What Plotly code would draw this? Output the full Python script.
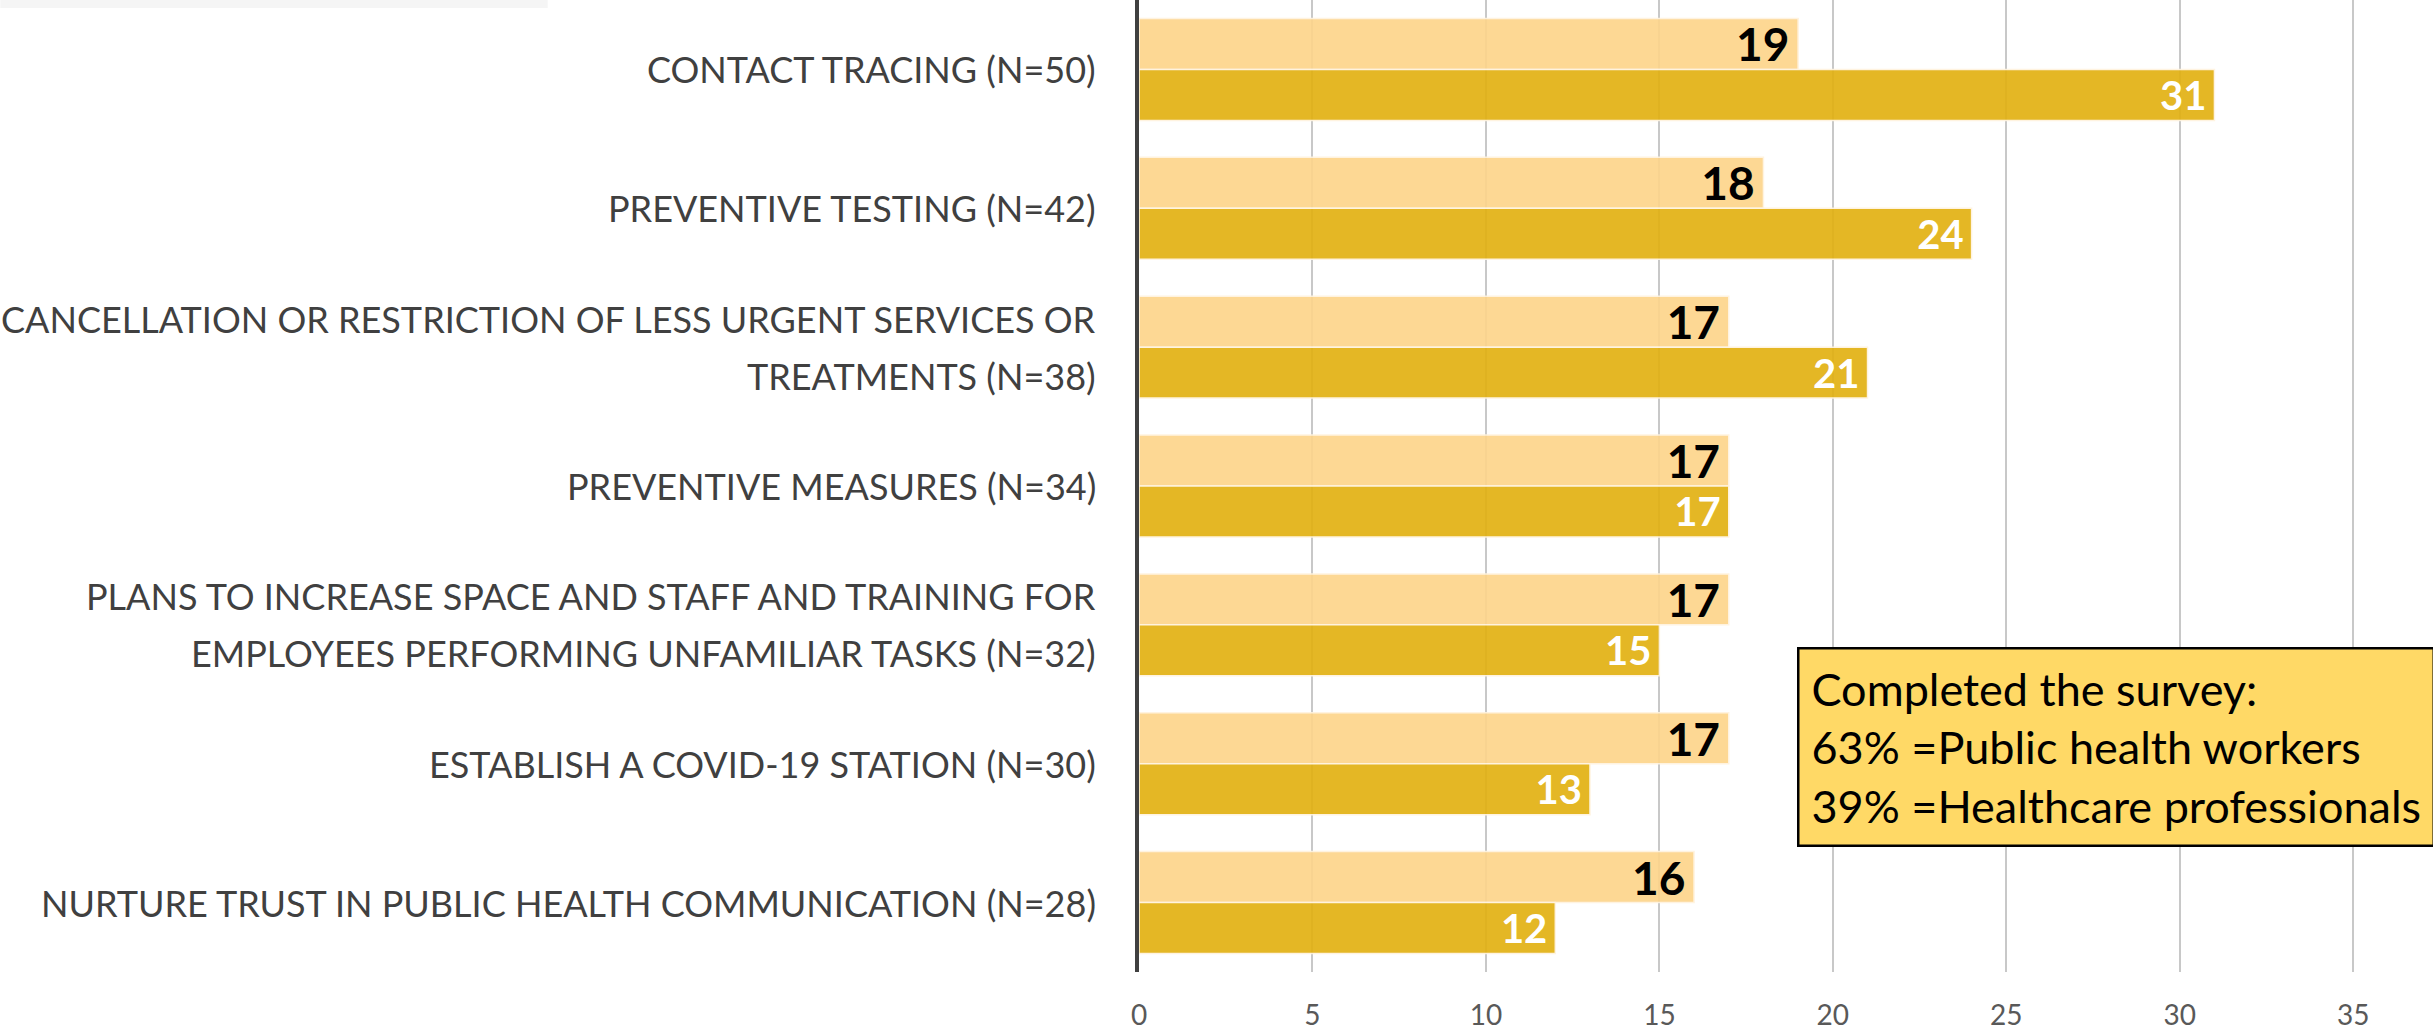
import plotly.graph_objects as go

# Data (top to bottom as in the chart)
categories = [
    "CONTACT TRACING (N=50)",
    "PREVENTIVE TESTING (N=42)",
    "CANCELLATION OR RESTRICTION OF LESS URGENT SERVICES OR\nTREATMENTS (N=38)",
    "PREVENTIVE MEASURES (N=34)",
    "PLANS TO INCREASE SPACE AND STAFF AND TRAINING FOR\nEMPLOYEES PERFORMING UNFAMILIAR TASKS (N=32)",
    "ESTABLISH A COVID-19 STATION (N=30)",
    "NURTURE TRUST IN PUBLIC HEALTH COMMUNICATION (N=28)",
]
public_health = [19, 18, 17, 17, 17, 17, 16]
healthcare = [31, 24, 21, 17, 15, 13, 12]
x_ticks = [0, 5, 10, 15, 20, 25, 30, 35]
note_lines = [
    "Completed the survey:",
    "63% =Public health workers",
    "39% =Healthcare professionals",
]

FONT = "Lato, 'Open Sans', sans-serif"

fig = go.Figure()

fig.add_trace(go.Bar(
    y=categories, x=public_health, orientation="h", name="Public health workers",
    marker=dict(color="#FDD58C", opacity=0.92,
                line=dict(color="rgba(255,243,222,1)", width=1.5)),
    texttemplate="<b>%{x}</b>\u2009", textposition="inside", insidetextanchor="end",
    constraintext="none",
    textfont=dict(family=FONT, size=46, color="black"),
))
fig.add_trace(go.Bar(
    y=categories, x=healthcare, orientation="h", name="Healthcare professionals",
    marker=dict(color="#E2B113", opacity=0.92,
                line=dict(color="rgba(255,243,222,1)", width=1.5)),
    texttemplate="<b>%{x}</b>\u2009", textposition="inside", insidetextanchor="end",
    constraintext="none",
    textfont=dict(family=FONT, size=40, color="white"),
))

# category labels (centred lines, right-aligned block)
annotations = []
LINE_STEP = 57
for cat in categories:
    lines = cat.split("\n")
    n = len(lines)
    for i, line in enumerate(lines):
        annotations.append(dict(
            x=0, xref="paper", xanchor="right", xshift=-41,
            y=cat, yref="y", yanchor="middle",
            yshift=((n - 1) / 2 - i) * LINE_STEP,
            text=line, showarrow=False,
            font=dict(family=FONT, size=36, color="#404040"),
        ))

annotations.append(dict(
    x=0.5085, xref="paper", xanchor="left",
    y=0.334, yref="paper", yanchor="top",
    text="<br>".join(note_lines), showarrow=False, align="left",
    font=dict(family=FONT, size=45, color="black"),
    bgcolor="#FFD966", bordercolor="black", borderwidth=2.5, borderpad=12,
))

fig.update_layout(
    width=2433, height=1030,
    margin=dict(l=1139, r=0, t=0, b=58),
    paper_bgcolor="white", plot_bgcolor="white",
    barmode="group", bargap=0.266, bargroupgap=0,
    showlegend=False,
    font=dict(family=FONT),
    annotations=annotations,
    shapes=[dict(type="rect", xref="paper", yref="paper",
                 x0=-0.88, x1=-0.457, y0=0.9918, y1=1.0,
                 fillcolor="#F5F5F5", line=dict(width=0), layer="below")],
    xaxis=dict(
        range=[0, 37.3], tickvals=x_ticks, showgrid=True,
        gridcolor="#C8C8C8", gridwidth=2, zeroline=False, showline=False,
        ticks="outside", ticklen=18, tickcolor="rgba(0,0,0,0)",
        tickfont=dict(family=FONT, size=28, color="#595959"),
        automargin=False, fixedrange=True,
    ),
    yaxis=dict(
        autorange="reversed", showticklabels=False, showgrid=False,
        showline=True, linecolor="#404040", linewidth=4,
        automargin=False, ticks="",
    ),
)

fig.write_html("out.html", config={"displayModeBar": False},
               post_script="document.body.style.margin='0';")
